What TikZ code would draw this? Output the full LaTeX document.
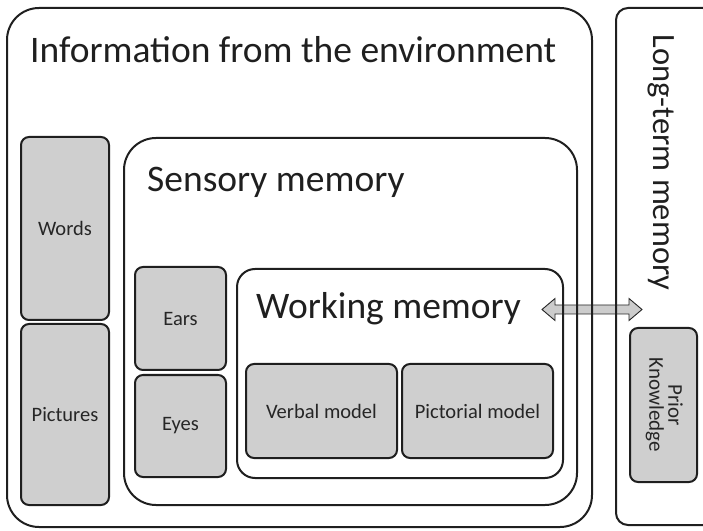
\documentclass[tikz,border=0pt]{standalone}
\usepackage{fontspec}
\setmainfont{Carlito}
\begin{document}
\begin{tikzpicture}[x=1pt,y=1pt,
  frame/.style={draw=black!88,line width=2pt,inner sep=0pt,outer sep=0pt},
  graybox/.style={frame,fill=black!19,rounded corners=8pt,text=black!85,font=\fontsize{20.5}{23}\selectfont},
  title/.style={inner sep=0pt,anchor=base west,text=black!88,font=\fontsize{37.5}{42}\selectfont}]
\useasboundingbox (0,0) rectangle (703,530);
% arrow (under the frames)
\draw[fill=black!20,draw=black!85,line width=0.9pt]
  (542,220.5) -- (555,231.5) -- (555,225) -- (629,225) -- (629,231.5) -- (642,220.5)
  -- (629,209.5) -- (629,216) -- (555,216) -- (555,209.5) -- cycle;
% frames
\node[frame,rounded corners=32pt,minimum width=585pt,minimum height=519pt] (env) at (299.5,262.5) {};
\node[frame,rounded corners=12pt,minimum width=99pt,minimum height=517pt] (ltm) at (665.5,263.5) {};
\node[frame,rounded corners=32pt,minimum width=453pt,minimum height=367pt] (sens) at (350.5,208.5) {};
\node[frame,rounded corners=18pt,minimum width=326pt,minimum height=209pt] (work) at (400,156.5) {};
% gray boxes
\node[graybox,minimum width=88pt,minimum height=183pt] (words) at (65,301.5) {Words};
\node[graybox,minimum width=88pt,minimum height=181pt] (pict) at (65,115.5) {Pictures};
\node[graybox,minimum width=91pt,minimum height=103pt] (ears) at (180.5,211.5) {Ears};
\node[graybox,minimum width=91pt,minimum height=102pt] (eyes) at (180.5,104) {Eyes};
\node[graybox,minimum width=151pt,minimum height=94pt] (verbal) at (321.5,119) {Verbal model};
\node[graybox,minimum width=151pt,minimum height=94pt] (pictorial) at (477.5,119) {Pictorial model};
\node[graybox,minimum width=67pt,minimum height=154pt,font=\fontsize{21}{23}\selectfont] (prior) at (663.5,125) {\rotatebox{-90}{\begin{tabular}{@{}c@{}}Prior\\[-4pt]Knowledge\end{tabular}}};
% titles
\node[title] (envt) at (30,467) {Information from the environment};
\node[title] (senst) at (147,338) {Sensory memory};
\node[title] (workt) at (256,211) {Working memory};
\node[inner sep=0pt,text=black!88,font=\fontsize{32.5}{36}\selectfont,rotate=-90] (ltmt) at (661,367.5) {Long-term memory};
\end{tikzpicture}
\end{document}
